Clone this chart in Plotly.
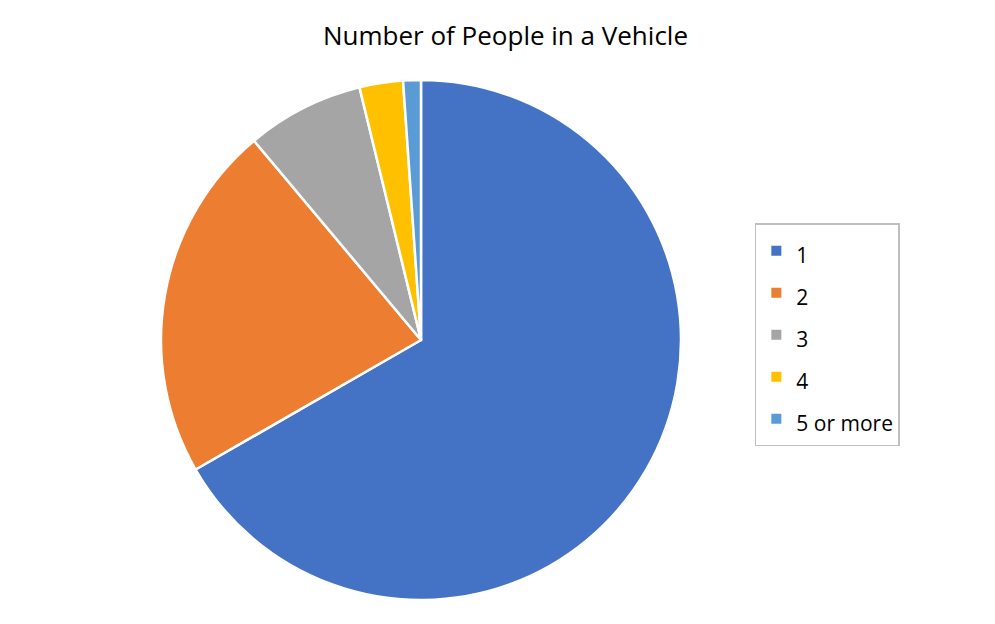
import plotly.graph_objects as go

# Share of vehicles by number of occupants
occupants = ['1', '2', '3', '4', '5 or more']
share = [66.7, 22.2, 7.3, 2.7, 1.1]
colors = ['#4472C4', '#ED7D31', '#A5A5A5', '#FFC000', '#5B9BD5']

# legend rows are spaced wider than the text, so the legend font is big
# and the label text itself is set smaller
legend_labels = ['<span style="font-size:21px">%s</span>' % o for o in occupants]

pie = go.Pie(
    labels=legend_labels,
    values=share,
    sort=False,
    direction='clockwise',
    rotation=0,
    textinfo='none',
    customdata=occupants,
    hovertemplate='%{customdata}: %{percent}<extra></extra>',
    marker=dict(colors=colors, line=dict(color='white', width=2.5)),
)

layout = dict(
    title=dict(
        text='Number of People in a Vehicle',
        x=0.5, xref='container', xanchor='center',
        y=0.955, yanchor='middle',
        font=dict(family='Open Sans, Calibri, sans-serif', size=26, color='#000000'),
    ),
    width=995,
    height=624,
    margin=dict(l=153, r=322, t=72, b=32),
    paper_bgcolor='white',
    font=dict(family='Open Sans, Calibri, sans-serif', color='#000000'),
    legend=dict(
        x=1.142, xanchor='left',
        y=0.51, yanchor='middle',
        bordercolor='#BFBFBF',
        borderwidth=1.5,
        font=dict(size=30),
        itemsizing='constant',
    ),
    showlegend=True,
)

fig = go.Figure(data=[pie], layout=layout)
fig.write_html('out.html')
